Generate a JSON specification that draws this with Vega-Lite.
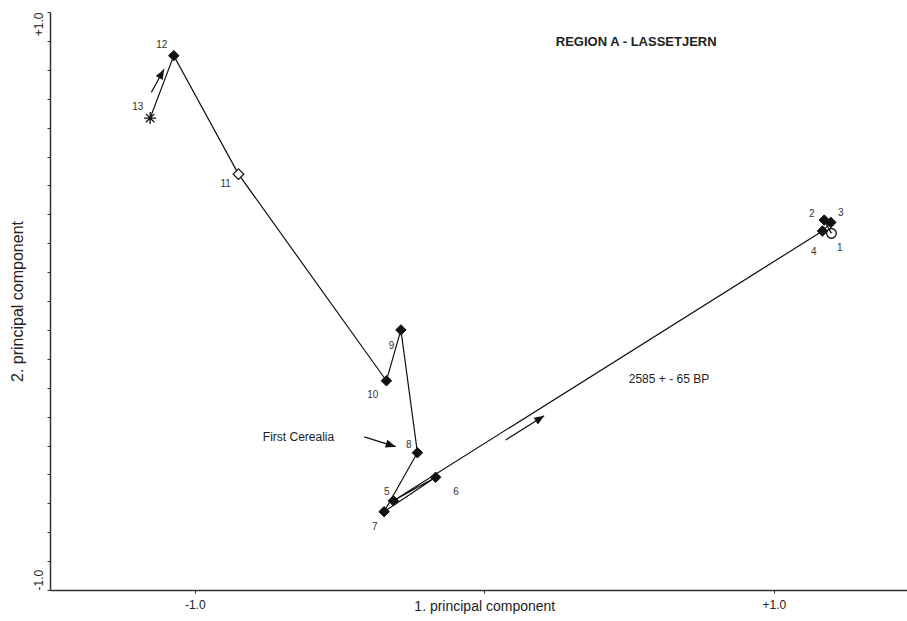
{
  "$schema": "https://vega.github.io/schema/vega-lite/v6.json",
  "width": 857,
  "height": 578,
  "autosize": {"type": "none"},
  "padding": {"left": 50, "top": 12, "right": 0, "bottom": 31},
  "background": "white",
  "config": {
    "view": {"stroke": null},
    "font": "Liberation Sans"
  },
  "datasets": {
    "samples": [
      {"seq": 1, "label": "1", "marker": "circle", "x": 1.199, "y": 0.234, "lx": 1.228, "ly": 0.183},
      {"seq": 2, "label": "2", "marker": "filled", "x": 1.174, "y": 0.280, "lx": 1.131, "ly": 0.301},
      {"seq": 3, "label": "3", "marker": "filled", "x": 1.197, "y": 0.272, "lx": 1.231, "ly": 0.304},
      {"seq": 4, "label": "4", "marker": "filled", "x": 1.168, "y": 0.242, "lx": 1.138, "ly": 0.170},
      {"seq": 5, "label": "5", "marker": "filled", "x": -0.314, "y": -0.691, "lx": -0.337, "ly": -0.661},
      {"seq": 6, "label": "6", "marker": "filled", "x": -0.168, "y": -0.610, "lx": -0.098, "ly": -0.661},
      {"seq": 7, "label": "7", "marker": "filled", "x": -0.346, "y": -0.729, "lx": -0.378, "ly": -0.782},
      {"seq": 8, "label": "8", "marker": "filled", "x": -0.231, "y": -0.525, "lx": -0.261, "ly": -0.498},
      {"seq": 9, "label": "9", "marker": "filled", "x": -0.288, "y": -0.100, "lx": -0.320, "ly": -0.156},
      {"seq": 10, "label": "10", "marker": "filled", "x": -0.338, "y": -0.276, "lx": -0.385, "ly": -0.325},
      {"seq": 11, "label": "11", "marker": "open", "x": -0.849, "y": 0.439, "lx": -0.893, "ly": 0.405},
      {"seq": 12, "label": "12", "marker": "filled", "x": -1.0725, "y": 0.849, "lx": -1.114, "ly": 0.886},
      {"seq": 13, "label": "13", "marker": "star", "x": -1.154, "y": 0.633, "lx": -1.197, "ly": 0.671}
    ],
    "arrows": [
      {"id": "a1", "x": -1.150, "y": 0.722, "x2": -1.106, "y2": 0.802, "angle": 28.7},
      {"id": "a2", "x": -0.415, "y": -0.470, "x2": -0.306, "y2": -0.504, "angle": 107.5},
      {"id": "a3", "x": 0.074, "y": -0.481, "x2": 0.207, "y2": -0.397, "angle": 57.6}
    ],
    "notes": [
      {"kind": "title", "text": "REGION A - LASSETJERN", "x": 0.247, "y": 0.896},
      {"kind": "note", "text": "2585 + - 65 BP", "x": 0.499, "y": -0.27},
      {"kind": "note", "text": "First Cerealia", "x": -0.765, "y": -0.471}
    ]
  },
  "encoding": {
    "x": {
      "field": "x", "type": "quantitative",
      "scale": {"domain": [-1.5, 1.46], "nice": false, "zero": false},
      "axis": {
        "values": [-1, 0, 1],
        "labelExpr": "datum.value == 0 ? '1. principal component' : datum.value > 0 ? '+1.0' : '-1.0'",
        "title": null, "grid": false, "tickSize": 3,
        "domainColor": "#333", "domainWidth": 1.5, "tickColor": "#333",
        "labelFont": "Liberation Sans",
        "labelFontSize": {"condition": {"test": "datum.value == 0", "value": 14}, "value": 12},
        "labelColor": "#222",
        "labelPadding": 6, "labelOverlap": false, "labelFlush": false
      }
    },
    "y": {
      "field": "y", "type": "quantitative",
      "scale": {"domain": [-1, 1], "nice": false, "zero": false},
      "axis": {
        "values": [-1, -0.9, -0.8, -0.7, -0.6, -0.5, -0.4, -0.3, -0.2, -0.1, 0, 0.1, 0.2, 0.3, 0.4, 0.5, 0.6, 0.7, 0.8, 0.9, 1],
        "labelExpr": "datum.value == 1 ? '+1.0' : datum.value == -1 ? '-1.0' : ''",
        "labelAngle": -90,
        "labelAlign": {"condition": {"test": "datum.value > 0", "value": "right"}, "value": "left"},
        "labelBaseline": "bottom",
        "title": "2. principal component", "titlePadding": 7,
        "titleFont": "Liberation Sans", "titleFontSize": 16, "titleFontWeight": "normal", "titleColor": "#222",
        "grid": false, "tickSize": 3,
        "domainColor": "#333", "domainWidth": 1.5, "tickColor": "#333",
        "labelFont": "Liberation Sans", "labelFontSize": 12, "labelColor": "#222",
        "labelPadding": 2, "labelOverlap": false, "labelFlush": false
      }
    }
  },
  "layer": [
    {
      "mark": {"type": "rule", "strokeDash": [4, 3], "color": "#111", "strokeWidth": 1.2},
      "encoding": {"x": {"datum": 0}, "y": null}
    },
    {
      "mark": {"type": "rule", "strokeDash": [4, 3], "color": "#111", "strokeWidth": 1.2},
      "encoding": {"y": {"datum": 0}, "x": null}
    },
    {
      "mark": {"type": "rule", "color": "#333", "strokeWidth": 1.5},
      "encoding": {"y": {"datum": 1}, "x": null}
    },
    {
      "data": {"name": "samples"},
      "mark": {"type": "line", "color": "#111", "strokeWidth": 1.2},
      "encoding": {"order": {"field": "seq", "type": "quantitative"}}
    },
    {
      "data": {"name": "samples"},
      "transform": [{"filter": "datum.marker == 'circle'"}],
      "mark": {"type": "point", "shape": "circle", "size": 95, "filled": false, "fill": "white", "fillOpacity": 0, "stroke": "#111", "strokeWidth": 1.3, "opacity": 1}
    },
    {
      "data": {"name": "samples"},
      "transform": [{"filter": "datum.marker == 'filled'"}],
      "mark": {"type": "point", "shape": "diamond", "size": 110, "filled": true, "color": "#111", "stroke": "#111", "strokeWidth": 1, "opacity": 1}
    },
    {
      "data": {"name": "samples"},
      "transform": [{"filter": "datum.marker == 'open'"}],
      "mark": {"type": "point", "shape": "diamond", "size": 110, "filled": true, "fill": "white", "stroke": "#111", "strokeWidth": 1.3, "opacity": 1}
    },
    {
      "data": {"name": "samples"},
      "transform": [{"filter": "datum.marker == 'star'"}],
      "mark": {"type": "point", "shape": "M-1,0L1,0M0,-1L0,1M-0.7,-0.7L0.7,0.7M-0.7,0.7L0.7,-0.7", "size": 144, "filled": false, "stroke": "#111", "strokeWidth": 1.3, "opacity": 1}
    },
    {
      "data": {"name": "samples"},
      "mark": {"type": "text", "font": "Liberation Sans", "fontSize": 10, "color": "#333", "align": "center", "baseline": "middle"},
      "encoding": {
        "x": {"field": "lx", "type": "quantitative"},
        "y": {"field": "ly", "type": "quantitative"},
        "text": {"field": "label"}
      }
    },
    {
      "data": {"name": "arrows"},
      "mark": {"type": "rule", "color": "#111", "strokeWidth": 1.2},
      "encoding": {
        "x2": {"field": "x2"},
        "y2": {"field": "y2"}
      }
    },
    {
      "data": {"name": "arrows"},
      "mark": {"type": "point", "shape": "M0,0L0.5,1.25L-0.5,1.25Z", "size": 256, "filled": true, "color": "#111", "opacity": 1},
      "encoding": {
        "x": {"field": "x2", "type": "quantitative"},
        "y": {"field": "y2", "type": "quantitative"},
        "angle": {"field": "angle", "type": "quantitative", "scale": null}
      }
    },
    {
      "data": {"name": "notes"},
      "transform": [{"filter": "datum.kind == 'title'"}],
      "mark": {"type": "text", "font": "Liberation Sans", "fontSize": 13, "fontWeight": "bold", "color": "#222", "align": "left", "baseline": "middle"},
      "encoding": {"text": {"field": "text"}}
    },
    {
      "data": {"name": "notes"},
      "transform": [{"filter": "datum.kind == 'note'"}],
      "mark": {"type": "text", "font": "Liberation Sans", "fontSize": 12, "color": "#222", "align": "left", "baseline": "middle"},
      "encoding": {"text": {"field": "text"}}
    }
  ]
}
